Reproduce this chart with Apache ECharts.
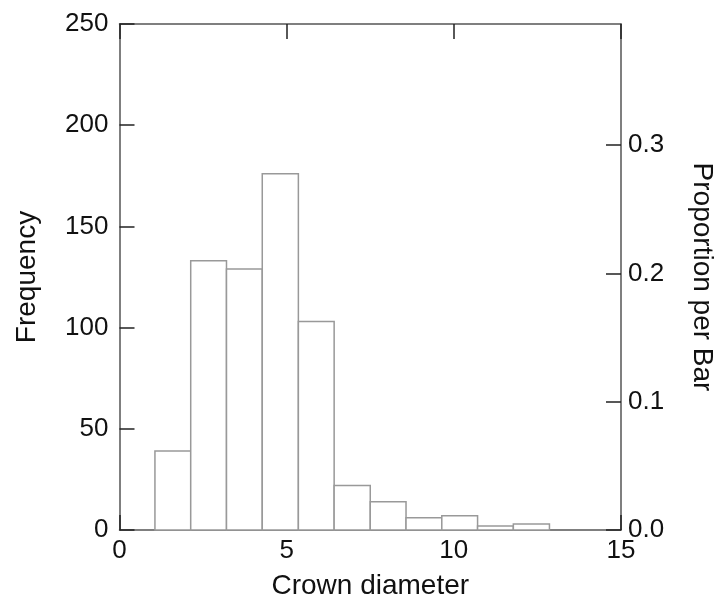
<!DOCTYPE html>
<html>
<head>
<meta charset="utf-8">
<script src="https://cdn.jsdelivr.net/npm/echarts@6/dist/echarts.min.js"></script>
<style>html,body{margin:0;padding:0;background:#fff}#c{width:724px;height:605px}</style>
</head>
<body>
<div id="c"></div>
<script>
// Histogram bin edges (Crown diameter) and counts (Frequency)
var binEdges = [1.06, 2.13, 3.2, 4.27, 5.35, 6.42, 7.5, 8.57, 9.64, 10.71, 11.78, 12.86];
var counts = [39, 133, 129, 176, 103, 22, 14, 6, 7, 2, 3];
var xTicks = [0, 5, 10, 15];
var freqTicks = [0, 50, 100, 150, 200, 250];
var propTicks = [0.0, 0.1, 0.2, 0.3];

var total = counts.reduce(function (a, b) { return a + b; }, 0);
var bins = counts.map(function (c, i) { return [binEdges[i], binEdges[i + 1], c]; });

var axisColor = '#555';
var font = 'Liberation Sans, Arial, sans-serif';
var txt = { fontSize: 26, color: '#111', fontFamily: font };
var nameTxt = { fontSize: 28, color: '#111', fontFamily: font };
var chart = echarts.init(document.getElementById('c'));
chart.setOption({
  animation: false,
  backgroundColor: '#fff',
  grid: { left: 119.5, right: 100, top: 24, bottom: 75, show: false },
  xAxis: [{
    type: 'value', min: xTicks[0], max: xTicks[xTicks.length - 1], interval: 5,
    position: 'bottom',
    name: 'Crown diameter', nameLocation: 'middle', nameGap: 42,
    nameTextStyle: nameTxt,
    axisLine: { show: true, onZero: false, lineStyle: { color: axisColor, width: 1.5 } },
    axisTick: { show: true, inside: true, length: 15, lineStyle: { color: '#222', width: 1.5 } },
    axisLabel: Object.assign({ margin: 8 }, txt),
    splitLine: { show: false }
  }, {
    type: 'value', min: xTicks[0], max: xTicks[xTicks.length - 1], interval: 5,
    position: 'top',
    axisLine: { show: true, onZero: false, lineStyle: { color: axisColor, width: 1.5 } },
    axisTick: { show: true, inside: true, length: 15, lineStyle: { color: '#222', width: 1.5 } },
    axisLabel: { show: false },
    splitLine: { show: false }
  }],
  yAxis: [{
    type: 'value', min: freqTicks[0], max: freqTicks[freqTicks.length - 1], interval: 50,
    position: 'left',
    name: 'Frequency', nameLocation: 'middle', nameGap: 78,
    nameTextStyle: nameTxt,
    axisLine: { show: true, onZero: false, lineStyle: { color: axisColor, width: 1.5 } },
    axisTick: { show: true, inside: true, length: 15, lineStyle: { color: '#222', width: 1.5 } },
    axisLabel: Object.assign({ margin: 11 }, txt),
    splitLine: { show: false }
  }, {
    type: 'value', min: 0, max: freqTicks[freqTicks.length - 1] / total, interval: 0.1,
    position: 'right',
    name: 'Proportion per Bar', nameLocation: 'middle', nameGap: 67, nameRotate: -90,
    nameTextStyle: nameTxt,
    axisLine: { show: true, onZero: false, lineStyle: { color: axisColor, width: 1.5 } },
    axisTick: { show: true, inside: true, length: 15, lineStyle: { color: '#222', width: 1.5 } },
    axisLabel: Object.assign({
      margin: 7, showMaxLabel: false,
      formatter: function (v) {
        for (var i = 0; i < propTicks.length; i++) {
          if (Math.abs(v - propTicks[i]) < 1e-6) return propTicks[i].toFixed(1);
        }
        return '';
      }
    }, txt),
    splitLine: { show: false }
  }],
  series: [{
    type: 'custom',
    xAxisIndex: 0, yAxisIndex: 0,
    data: bins,
    renderItem: function (params, api) {
      var p0 = api.coord([api.value(0), 0]);
      var p1 = api.coord([api.value(1), api.value(2)]);
      return {
        type: 'rect',
        shape: { x: p0[0], y: p1[1], width: p1[0] - p0[0], height: p0[1] - p1[1] },
        style: { fill: '#fff', stroke: '#999', lineWidth: 1.5 }
      };
    },
    z: 1
  }]
});
</script>
</body>
</html>
